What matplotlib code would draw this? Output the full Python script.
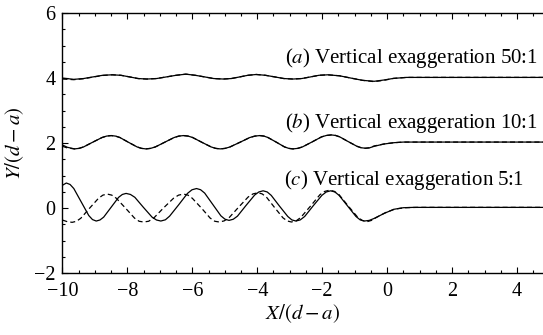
import matplotlib
matplotlib.use("Agg")
from matplotlib import pyplot as plt
from matplotlib.ticker import MultipleLocator

plt.rcParams['font.family'] = ['Liberation Serif', 'DejaVu Serif']
plt.rcParams['mathtext.fontset'] = 'stix'

# (c) vertical exaggeration 5:1, offset 0
xc_solid = [-10.0, -9.88, -9.765, -9.65, -9.42, -9.19, -9.075, -8.96, -8.845, -8.73,
            -8.50, -8.27, -8.155, -8.04, -7.906, -7.77, -7.51, -7.24, -7.104, -6.97,
            -6.83, -6.70, -6.42, -6.15, -6.01, -5.87, -5.745, -5.62, -5.37, -5.12,
            -4.995, -4.87, -4.739, -4.61, -4.35, -4.08, -3.951, -3.82, -3.694, -3.57,
            -3.32, -3.06, -2.936, -2.81, -2.676, -2.54, -2.28, -2.01, -1.874, -1.74,
            -1.61, -1.48, -1.22, -0.96, -0.83, -0.70, -0.55, -0.40, -0.10, 0.20,
            0.50, 0.80, 1.20, 4.80]
yc_solid = [0.70, 0.77, 0.725, 0.60, 0.185, -0.23, -0.355, -0.40, -0.368, -0.28,
            0.025, 0.33, 0.418, 0.45, 0.418, 0.33, 0.025, -0.28, -0.368, -0.40,
            -0.362, -0.25, 0.10, 0.45, 0.562, 0.60, 0.563, 0.46, 0.11, -0.24,
            -0.343, -0.38, -0.345, -0.25, 0.075, 0.40, 0.495, 0.53, 0.495, 0.39,
            0.065, -0.26, -0.365, -0.40, -0.365, -0.26, 0.065, 0.39, 0.495, 0.53,
            0.495, 0.39, 0.065, -0.26, -0.365, -0.40, -0.38, -0.32, -0.17, -0.04,
            0.01, 0.02, 0.02, 0.02]
xc_dash = [-10.0, -9.85, -9.70, -9.565, -9.43, -9.16, -8.89, -8.755, -8.62, -8.48,
           -8.34, -8.06, -7.78, -7.64, -7.50, -7.346, -7.19, -6.89, -6.58, -6.424,
           -6.27, -6.133, -6.00, -5.72, -5.45, -5.308, -5.17, -5.021, -4.87, -4.58,
           -4.28, -4.129, -3.98, -3.851, -3.72, -3.47, -3.21, -3.079, -2.95, -2.80,
           -2.66, -2.36, -2.07, -1.92, -1.77, -1.626, -1.48, -1.20, -0.91, -0.764,
           -0.62, -0.48, -0.35, -0.05, 0.25, 0.55, 0.90, 4.80]
yc_dash = [-0.37, -0.42, -0.44, -0.407, -0.31, 0.0, 0.30, 0.397, 0.43, 0.397,
           0.30, 0.0, -0.31, -0.407, -0.43, -0.407, -0.31, 0.0, 0.30, 0.397,
           0.43, 0.397, 0.30, 0.0, -0.31, -0.407, -0.43, -0.396, -0.30, 0.02,
           0.34, 0.436, 0.47, 0.436, 0.34, 0.02, -0.30, -0.396, -0.43, -0.393,
           -0.29, 0.06, 0.41, 0.513, 0.55, 0.513, 0.41, 0.065, -0.28, -0.383,
           -0.42, -0.38, -0.30, -0.14, -0.03, 0.01, 0.02, 0.02]

# (b) vertical exaggeration 10:1, offset 2
xb = [-10.0, -9.85, -9.63, -9.489, -9.35, -9.07, -8.78, -8.641, -8.50, -8.366,
      -8.23, -7.97, -7.70, -7.564, -7.43, -7.285, -7.14, -6.85, -6.56, -6.415,
      -6.27, -6.129, -5.99, -5.71, -5.42, -5.281, -5.14, -4.988, -4.84, -4.53,
      -4.23, -4.073, -3.92, -3.793, -3.67, -3.41, -3.16, -3.028, -2.90, -2.753,
      -2.61, -2.31, -2.02, -1.868, -1.72, -1.589, -1.46, -1.20, -0.93, -0.801,
      -0.67, -0.55, -0.40, -0.10, 0.20, 0.50, 4.80]
yb_solid = [1.94, 1.87, 1.82, 1.836, 1.88, 2.025, 2.17, 2.214, 2.23, 2.214,
            2.17, 2.025, 1.88, 1.836, 1.82, 1.836, 1.88, 2.025, 2.17, 2.214,
            2.23, 2.214, 2.17, 2.025, 1.88, 1.836, 1.82, 1.836, 1.88, 2.025,
            2.17, 2.214, 2.23, 2.214, 2.17, 2.025, 1.88, 1.836, 1.82, 1.836,
            1.88, 2.035, 2.19, 2.234, 2.25, 2.234, 2.19, 2.045, 1.90, 1.856,
            1.84, 1.85, 1.90, 1.97, 2.01, 2.03, 2.03]
yb_dash = [1.90, 1.85, 1.82, 1.836, 1.88, 2.025, 2.17, 2.214, 2.23, 2.214,
           2.17, 2.025, 1.88, 1.836, 1.82, 1.836, 1.88, 2.025, 2.17, 2.214,
           2.23, 2.214, 2.17, 2.025, 1.88, 1.836, 1.82, 1.836, 1.88, 2.025,
           2.17, 2.214, 2.23, 2.214, 2.17, 2.025, 1.88, 1.836, 1.82, 1.836,
           1.88, 2.035, 2.19, 2.234, 2.25, 2.234, 2.19, 2.045, 1.90, 1.856,
           1.84, 1.855, 1.91, 1.97, 2.01, 2.03, 2.03]

# (a) vertical exaggeration 50:1, offset 4
xa = [-10.0, -9.65, -9.35, -9.06, -8.76, -8.47, -8.20, -7.93, -7.67, -7.40,
      -7.10, -6.80, -6.50, -6.20, -5.91, -5.62, -5.34, -5.05, -4.80, -4.54,
      -4.29, -4.03, -3.75, -3.46, -3.18, -2.90, -2.63, -2.36, -2.10, -1.83,
      -1.47, -1.12, -0.76, -0.40, -0.10, 0.20, 0.60, 4.80]
ya_solid = [4.00, 3.96, 3.985, 4.035, 4.085, 4.10, 4.085, 4.035, 3.985, 3.97,
            3.985, 4.035, 4.085, 4.12, 4.085, 4.035, 3.985, 3.97, 3.985, 4.035,
            4.085, 4.11, 4.085, 4.035, 3.985, 3.97, 3.985, 4.035, 4.085, 4.10,
            4.07, 4.00, 3.93, 3.90, 3.94, 3.99, 4.02, 4.02]
ya_dash = [3.97, 3.95, 3.98, 4.03, 4.08, 4.10, 4.085, 4.035, 3.985, 3.97,
           3.985, 4.035, 4.085, 4.12, 4.085, 4.035, 3.985, 3.97, 3.985, 4.035,
           4.085, 4.11, 4.085, 4.035, 3.985, 3.97, 3.985, 4.035, 4.085, 4.10,
           4.07, 4.00, 3.93, 3.89, 3.93, 3.99, 4.02, 4.02]

labels = [(4.65, 4.46, r'($\it{a}$) Vertical exaggeration 50:1'),
          (4.65, 2.46, r'($\it{b}$) Vertical exaggeration 10:1'),
          (4.22, 0.71, r'($\it{c}$) Vertical exaggeration 5:1')]

fig = plt.figure(figsize=(5.43, 3.35), dpi=100)
ax = fig.add_axes([0.115, 0.185, 0.885, 0.776])

lw = 0.9
dash = (0, (4, 2.5))
ax.plot(xc_solid, yc_solid, 'k-', lw=lw, solid_joinstyle='round')
ax.plot(xc_dash, yc_dash, color='k', ls=dash, lw=lw)
ax.plot(xb, yb_solid, 'k-', lw=lw, solid_joinstyle='round')
ax.plot(xb, yb_dash, color='k', ls=dash, lw=lw)
ax.plot(xa, ya_solid, 'k-', lw=lw, solid_joinstyle='round')
ax.plot(xa, ya_dash, color='k', ls=dash, lw=lw)

for x, y, s in labels:
    ax.text(x, y, s, ha='right', va='baseline', fontsize=15)

ax.set_xlim(-10, 4.8)
ax.set_ylim(-2, 6)
ax.xaxis.set_minor_locator(MultipleLocator(0.5))
ax.yaxis.set_minor_locator(MultipleLocator(0.5))
ax.spines['right'].set_visible(False)
for s in ['left', 'bottom', 'top']:
    ax.spines[s].set_linewidth(1.0)
ax.tick_params(which='both', direction='in', top=True, right=False, labelsize=14.5, pad=5)
ax.tick_params(axis='x', which='major', pad=6.5)
ax.tick_params(which='major', length=4.5, width=0.8)
ax.tick_params(which='minor', length=2.5, width=0.8)
ax.set_xticks([-10, -8, -6, -4, -2, 0, 2, 4])
ax.set_xticklabels(['\u221210', '\u22128', '\u22126', '\u22124', '\u22122', '0', '2', '4'])
ax.set_yticks([-2, 0, 2, 4, 6])
ax.set_yticklabels(['\u22122', '0', '2', '4', '6'])

ax.set_xlabel(r'$X/(d-a)$', fontsize=15)
ax.xaxis.set_label_coords(0.5, -0.158)
ax.xaxis.label.set_va('center')
ax.set_ylabel(r'$Y/(d-a)$', fontsize=15)
ax.yaxis.set_label_coords(-0.099, 0.5)
ax.yaxis.label.set_va('center')

fig.savefig('out.png', dpi=100)
